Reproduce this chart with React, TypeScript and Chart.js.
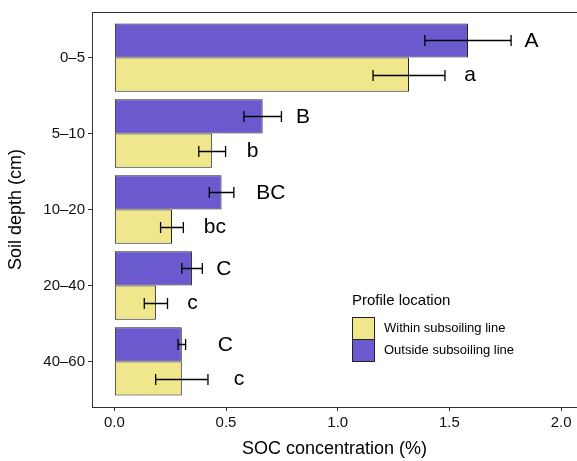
import React, { useEffect, useRef } from "react";
import { Chart, registerables } from "chart.js";

Chart.register(...registerables);

const FONT = '"Liberation Sans", Arial, Helvetica, sans-serif';

// ---- data ----
const depths = ["0–5", "5–10", "10–20", "20–40", "40–60"];
const outsideMean = [1.583, 0.664, 0.48, 0.348, 0.302];
const outsideSE = [0.193, 0.084, 0.055, 0.046, 0.017];
const withinMean = [1.319, 0.438, 0.258, 0.186, 0.302];
const withinSE = [0.161, 0.06, 0.051, 0.052, 0.117];
const outsideLetters = ["A", "B", "BC", "C", "C"];
const withinLetters = ["a", "b", "bc", "c", "c"];
const outsideLetterX = [1.867, 0.845, 0.7, 0.49, 0.497];
const withinLetterX = [1.592, 0.619, 0.45, 0.35, 0.558];
const xTicks = [0, 0.5, 1, 1.5, 2];
const legendTitle = "Profile location";
const withinName = "Within subsoiling line";
const outsideName = "Outside subsoiling line";
const xTitle = "SOC concentration (%)";
const yTitle = "Soil depth (cm)";

const PURPLE = "#6A5ACD";
const KHAKI = "#F0E68C";

const overlay = {
  id: "overlay",
  afterDatasetsDraw(chart: any) {
    const ctx = chart.ctx;
    const xs = chart.scales.x;
    const area = chart.chartArea;
    ctx.save();
    // top panel border
    ctx.strokeStyle = "#333";
    ctx.lineWidth = 1;
    ctx.beginPath();
    ctx.moveTo(area.left, area.top + 0.5);
    ctx.lineTo(area.right, area.top + 0.5);
    ctx.stroke();

    const groups = [
      { means: outsideMean, se: outsideSE, letters: outsideLetters, lx: outsideLetterX },
      { means: withinMean, se: withinSE, letters: withinLetters, lx: withinLetterX },
    ];
    groups.forEach((g, di) => {
      const meta = chart.getDatasetMeta(di);
      meta.data.forEach((el: any, i: number) => {
        const y = Math.round(el.y) + 0.5;
        const x0 = xs.getPixelForValue(g.means[i] - g.se[i]);
        const x1 = xs.getPixelForValue(g.means[i] + g.se[i]);
        ctx.strokeStyle = "#000";
        ctx.lineWidth = 1.3;
        ctx.beginPath();
        ctx.moveTo(x0, y);
        ctx.lineTo(x1, y);
        ctx.moveTo(x0, y - 5.5);
        ctx.lineTo(x0, y + 5.5);
        ctx.moveTo(x1, y - 5.5);
        ctx.lineTo(x1, y + 5.5);
        ctx.stroke();
        ctx.fillStyle = "#000";
        ctx.font = `21px ${FONT}`;
        ctx.textAlign = "center";
        ctx.textBaseline = "middle";
        ctx.fillText(g.letters[i], xs.getPixelForValue(g.lx[i]), el.y + 1);
      });
    });

    // legend
    const lx = area.left + 260;
    ctx.fillStyle = "#000";
    ctx.font = `15px ${FONT}`;
    ctx.textAlign = "left";
    ctx.textBaseline = "middle";
    ctx.fillText(legendTitle, lx, 301);
    const entries = [
      { name: withinName, color: KHAKI },
      { name: outsideName, color: PURPLE },
    ];
    entries.forEach((e, k) => {
      const top = 317.5 + k * 22;
      ctx.fillStyle = e.color;
      ctx.fillRect(lx + 0.5, top, 22, 22);
      ctx.strokeStyle = "#222";
      ctx.lineWidth = 1;
      ctx.strokeRect(lx + 0.5, top, 22, 22);
      ctx.fillStyle = "#000";
      ctx.font = `13px ${FONT}`;
      ctx.fillText(e.name, lx + 32, top + 11);
    });
    ctx.restore();
  },
};

export default function App() {
  const ref = useRef<HTMLCanvasElement | null>(null);
  useEffect(() => {
    if (!ref.current) return;
    Chart.defaults.font.family = FONT;
    const chart = new Chart(ref.current, {
      type: "bar",
      data: {
        datasets: [
          {
            label: outsideName,
            data: outsideMean.map((v, i) => ({ x: v, y: i + 1 })),
            backgroundColor: PURPLE,
            borderColor: "#222",
            borderWidth: 1,
            borderSkipped: false,
          },
          {
            label: withinName,
            data: withinMean.map((v, i) => ({ x: v, y: i + 1 })),
            backgroundColor: KHAKI,
            borderColor: "#222",
            borderWidth: 1,
            borderSkipped: false,
          },
        ],
      } as any,
      options: {
        indexAxis: "y",
        responsive: false,
        animation: false,
        categoryPercentage: 0.9,
        barPercentage: 1.0,
        layout: { padding: { top: 8, right: 0, left: 0, bottom: 0 } },
        plugins: { legend: { display: false }, tooltip: { enabled: false } },
        scales: {
          x: {
            type: "linear",
            min: -0.1,
            max: 2.071,
            offset: false,
            afterBuildTicks: (s: any) => {
              s.ticks = xTicks.map((v) => ({ value: v }));
            },
            afterFit: (s: any) => {
              s.height = 54;
            },
            ticks: {
              callback: (v: any) => Number(v).toFixed(1),
              font: { size: 15 },
              color: "#111",
              padding: 3,
              maxRotation: 0,
              autoSkip: false,
            },
            grid: { drawOnChartArea: false, drawTicks: true, tickLength: 4, color: "#333", offset: false },
            border: { display: true, color: "#333", width: 1 },
            title: {
              display: true,
              text: xTitle,
              font: { size: 18, lineHeight: 1.2 },
              color: "#000",
              padding: { top: 0, bottom: 1 },
            },
          },
          y: {
            type: "linear",
            reverse: true,
            min: 0.4,
            max: 5.6,
            offset: false,
            afterBuildTicks: (s: any) => {
              s.ticks = depths.map((_, i) => ({ value: i + 1 }));
            },
            afterFit: (s: any) => {
              s.width = 92;
            },
            ticks: {
              callback: (v: any) => depths[Math.round(Number(v)) - 1] ?? "",
              font: { size: 15 },
              color: "#111",
              padding: 3,
              autoSkip: false,
            },
            grid: { drawOnChartArea: false, drawTicks: true, tickLength: 4, color: "#333", offset: false },
            border: { display: true, color: "#333", width: 1 },
            title: {
              display: true,
              text: yTitle,
              font: { size: 18, lineHeight: 1.2 },
              color: "#000",
              padding: { top: 5, bottom: 0 },
            },
          },
        },
      } as any,
      plugins: [overlay],
    });
    return () => chart.destroy();
  }, []);
  return (
    <div style={{ position: "fixed", left: 0, top: 0, width: 577, height: 461, background: "#fff" }}>
      <canvas ref={ref} width={577} height={461} style={{ display: "block" }} />
    </div>
  );
}
